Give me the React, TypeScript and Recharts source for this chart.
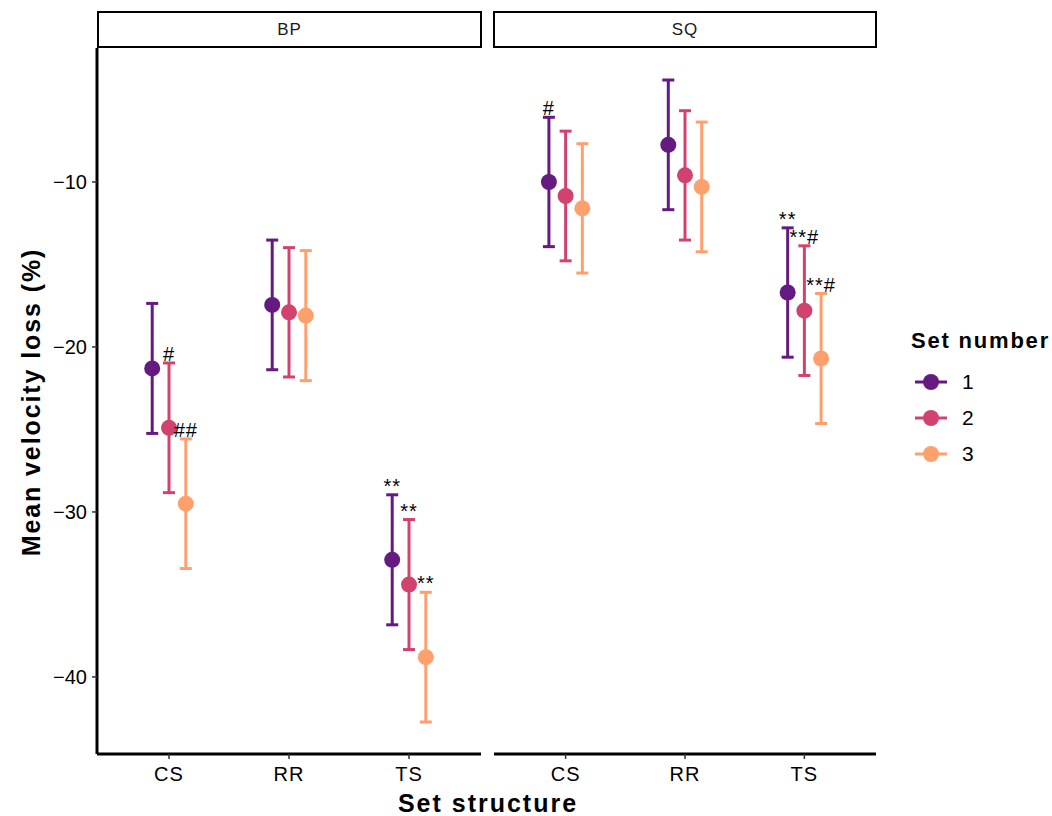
import { ErrorBar, Legend, Scatter, ScatterChart, XAxis, YAxis } from "recharts"

const structures = ["CS", "RR", "TS"]
const sets = ["1", "2", "3"]
const setColors = ["#641A80", "#D1426F", "#FEA06D"]

// mean velocity loss per set (rows) and structure (CS, RR, TS)
const bpMean = [
  [-21.3, -17.45, -32.9],
  [-24.9, -17.9, -34.4],
  [-29.5, -18.1, -38.8],
]
const bpCI = [
  [3.94, 3.93, 3.94],
  [3.93, 3.92, 3.94],
  [3.93, 3.94, 3.93],
]
const bpSig = [
  ["", "", "**"],
  ["#", "", "**"],
  ["##", "", "**"],
]

const sqMean = [
  [-10.0, -7.75, -16.7],
  [-10.85, -9.6, -17.8],
  [-11.6, -10.3, -20.7],
]
const sqCI = [
  [3.92, 3.93, 3.92],
  [3.93, 3.92, 3.93],
  [3.92, 3.93, 3.94],
]
const sqSig = [
  ["#", "", "**"],
  ["", "", "**#"],
  ["", "", "**#"],
]

const yTicks = [-40, -30, -20, -10]
const yDomain: [number, number] = [-44.67, -1.88]
const dodge = 0.14
const font = "'Liberation Sans', Arial, Helvetica, sans-serif"

const seriesRows = (means: number[][], ci: number[][], s: number) =>
  structures.map((_, i) => ({
    x: i + 1 + (s - 1) * dodge,
    y: means[s][i],
    err: ci[s][i],
  }))

const sigRows = (means: number[][], ci: number[][], sig: string[][]) =>
  sets.flatMap((_, s) =>
    structures
      .map((_, i) => ({
        x: i + 1 + (s - 1) * dodge,
        y: means[s][i] + ci[s][i],
        label: sig[s][i],
      }))
      .filter((d) => d.label)
  )

const minus = (v: number) => String(v).replace("-", "\u2212")

const Dot = (props: any) => <circle cx={props.cx} cy={props.cy} r={8} fill={props.fill} />

const SigText = (props: any) => (
  <text
    x={props.cx}
    y={props.cy - 2}
    textAnchor="middle"
    fontSize={20}
    fontFamily={font}
    letterSpacing={1}
    fill="#000"
  >
    {props.payload.label}
  </text>
)

const LegendBox = () => (
  <div style={{ fontFamily: font, color: "#000" }}>
    <div
      style={{ fontWeight: "bold", fontSize: 22, letterSpacing: 1.8, lineHeight: "26px", marginBottom: 10 }}
    >
      Set number
    </div>
    {sets.map((s, i) => (
      <div key={s} style={{ display: "flex", alignItems: "center", height: 36 }}>
        <svg width={40} height={24} style={{ marginLeft: 2 }}>
          <line x1={2} x2={34} y1={12} y2={12} stroke={setColors[i]} strokeWidth={3} />
          <circle cx={18} cy={12} r={8} fill={setColors[i]} />
        </svg>
        <span style={{ fontSize: 21, marginLeft: 9 }}>{s}</span>
      </div>
    ))}
  </div>
)

interface PanelProps {
  means: number[][]
  ci: number[][]
  sig: string[][]
  showY: boolean
  width: number
  right: number
  legend?: boolean
}

const Panel = ({ means, ci, sig, showY, width, right, legend }: PanelProps) => (
  <ScatterChart
    width={width}
    height={816}
    margin={{ top: 48, right, bottom: 22, left: 0 }}
    style={{ fontFamily: font }}
  >
    <XAxis
      type="number"
      dataKey="x"
      domain={[0.4, 3.6]}
      ticks={[1, 2, 3]}
      tickFormatter={(v) => structures[v - 1]}
      allowDataOverflow
      height={40}
      axisLine={{ stroke: "#000", strokeWidth: 3 }}
      tickLine={{ stroke: "#333", strokeWidth: 1.5 }}
      tickSize={5}
      tickMargin={8}
      tick={{ fill: "#000", fontSize: 20, letterSpacing: 1 }}
    />
    <YAxis
      type="number"
      dataKey="y"
      domain={yDomain}
      ticks={yTicks}
      allowDataOverflow
      hide={!showY}
      width={97}
      tickFormatter={minus}
      axisLine={{ stroke: "#000", strokeWidth: 3 }}
      tickLine={{ stroke: "#333", strokeWidth: 1.5 }}
      tickSize={5}
      tickMargin={5}
      tick={{ fill: "#000", fontSize: 20 }}
    />
    {sets.map((s, i) => (
      <Scatter
        key={s}
        name={s}
        data={seriesRows(means, ci, i)}
        fill={setColors[i]}
        shape={<Dot />}
        isAnimationActive={false}
      >
        <ErrorBar dataKey="err" direction="y" width={6} stroke={setColors[i]} strokeWidth={3} />
      </Scatter>
    ))}
    <Scatter
      data={sigRows(means, ci, sig)}
      shape={<SigText />}
      legendType="none"
      isAnimationActive={false}
    />
    {legend && (
      <Legend
        layout="vertical"
        align="center"
        verticalAlign="middle"
        content={() => <LegendBox />}
        wrapperStyle={{ left: 417, top: 328, width: 150 }}
      />
    )}
  </ScatterChart>
)

const Strip = ({ left, width, label }: { left: number; width: number; label: string }) => (
  <div
    style={{
      position: "absolute",
      left,
      top: 11,
      width,
      height: 37,
      boxSizing: "border-box",
      border: "2.5px solid #000",
      background: "#fff",
      display: "flex",
      alignItems: "center",
      justifyContent: "center",
      fontFamily: font,
      fontSize: 17,
      letterSpacing: 1,
      color: "#1a1a1a",
    }}
  >
    {label}
  </div>
)

export default function App() {
  return (
    <div style={{ position: "absolute", left: 0, top: 0, width: 1052, height: 816, background: "#fff" }}>
      <div style={{ position: "absolute", left: 0, top: 0 }}>
        <Panel means={bpMean} ci={bpCI} sig={bpSig} showY width={490} right={9} />
      </div>
      <div style={{ position: "absolute", left: 494, top: 0 }}>
        <Panel means={sqMean} ci={sqCI} sig={sqSig} showY={false} width={558} right={176} legend />
      </div>
      <Strip left={97} width={385} label="BP" />
      <Strip left={493} width={384} label="SQ" />
      <div
        style={{
          position: "absolute",
          left: 31,
          top: 402,
          transform: "translate(-50%, -50%) rotate(-90deg)",
          whiteSpace: "nowrap",
          fontFamily: font,
          fontWeight: "bold",
          fontSize: 25,
          letterSpacing: 1.9,
        }}
      >
        Mean velocity loss (%)
      </div>
      <div
        style={{
          position: "absolute",
          left: 488,
          top: 803,
          transform: "translate(-50%, -50%)",
          whiteSpace: "nowrap",
          fontFamily: font,
          fontWeight: "bold",
          fontSize: 25,
          letterSpacing: 2,
        }}
      >
        Set structure
      </div>
    </div>
  )
}
